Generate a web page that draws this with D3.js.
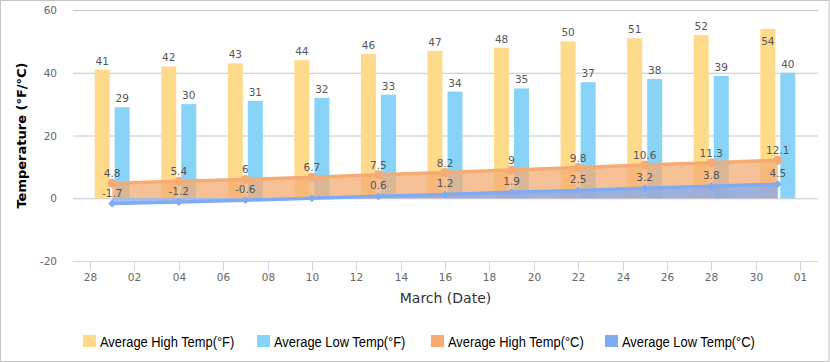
<!DOCTYPE html>
<html>
<head>
<meta charset="utf-8">
<script src="https://cdn.jsdelivr.net/npm/d3@7"></script>
<style>
  body { margin: 0; background: #fff; }
  svg { display: block; }
</style>
</head>
<body>
<div id="chart"></div>
<script>
// data
var dates = ["2023-03-01", "2023-03-04", "2023-03-07", "2023-03-10", "2023-03-13", "2023-03-16",
             "2023-03-19", "2023-03-22", "2023-03-25", "2023-03-28", "2023-03-31"];
var highF = [41, 42, 43, 44, 46, 47, 48, 50, 51, 52, 54];
var lowF  = [29, 30, 31, 32, 33, 34, 35, 37, 38, 39, 40];
var highC = [4.8, 5.4, 6, 6.7, 7.5, 8.2, 9, 9.8, 10.6, 11.3, 12.1];
var lowC  = [-1.7, -1.2, -0.6, 0, 0.6, 1.2, 1.9, 2.5, 3.2, 3.8, 4.5];
var xTicks = ["2023-02-28", "2023-03-02", "2023-03-04", "2023-03-06", "2023-03-08", "2023-03-10",
              "2023-03-12", "2023-03-14", "2023-03-16", "2023-03-18", "2023-03-20", "2023-03-22",
              "2023-03-24", "2023-03-26", "2023-03-28", "2023-03-30", "2023-04-01"];
var yTicks = [-20, 0, 20, 40, 60];
var seriesNames = ["Average High Temp(°F)", "Average Low Temp(°F)", "Average High Temp(°C)", "Average Low Temp(°C)"];
var seriesColors = ["#fddb8b", "#87d4f8", "#f4ac74", "#80abf3"];

var W = 830, H = 362;
var plot = {left: 73, right: 818, top: 10, bottom: 261};

var parse = d3.utcParse("%Y-%m-%d");
var pts = dates.map(function(d, i) {
  return {date: parse(d), hiF: highF[i], loF: lowF[i], hiC: highC[i], loC: lowC[i]};
});

var svg = d3.select("#chart")
  .append("svg")
    .attr("width", W)
    .attr("height", H);

// outer border
svg.append("rect")
  .attr("x", 0.5).attr("y", 0.5)
  .attr("width", W - 1.5).attr("height", H - 1)
  .attr("fill", "none")
  .attr("stroke", "#c4c4c4");

// scales
var x = d3.scaleUtc()
  .domain([parse(xTicks[0]), parse(xTicks[xTicks.length - 1])])
  .range([90, 800]);

var y = d3.scaleLinear()
  .domain([-20, 60])
  .range([plot.bottom, plot.top]);

var sub = d3.scaleBand()
  .domain(["hiF", "loF"])
  .range([-20, 20])
  .paddingInner(0.25)
  .paddingOuter(0.125);

// grid lines
svg.append("g")
  .selectAll("line")
  .data(yTicks.filter(function(t) { return t !== -20; }))
  .enter()
  .append("line")
    .attr("x1", plot.left).attr("x2", plot.right)
    .attr("y1", function(d) { return y(d) + 0.5; })
    .attr("y2", function(d) { return y(d) + 0.5; })
    .attr("stroke", "#c6c6c6");

// Y axis labels
svg.append("g")
  .selectAll("text")
  .data(yTicks)
  .enter()
  .append("text")
    .attr("x", 57)
    .attr("y", function(d) { return y(d) + 4; })
    .attr("text-anchor", "end")
    .style("font", "10.5px 'DejaVu Sans', sans-serif")
    .style("fill", "#666")
    .text(function(d) { return d; });

// X axis
var xAxis = svg.append("g")
  .attr("transform", "translate(0," + plot.bottom + ")");
xAxis.append("line")
  .attr("x1", plot.left).attr("x2", plot.right)
  .attr("y1", 0.5).attr("y2", 0.5)
  .attr("stroke", "#ccd6eb");
var tk = xAxis.selectAll(".tick")
  .data(xTicks.map(parse))
  .enter()
  .append("g")
    .attr("transform", function(d) { return "translate(" + (Math.round(x(d)) + 0.5) + ",0)"; });
tk.append("line")
  .attr("y1", 0).attr("y2", 10)
  .attr("stroke", "#ccd6eb");
tk.append("text")
  .attr("y", 20)
  .attr("text-anchor", "middle")
  .style("font", "10.5px 'DejaVu Sans', sans-serif")
  .style("fill", "#666")
  .text(d3.utcFormat("%d"));

// axis titles
svg.append("text")
  .attr("transform", "translate(26," + ((plot.top + plot.bottom) / 2) + ") rotate(-90)")
  .attr("text-anchor", "middle")
  .style("font", "bold 13px 'DejaVu Sans', sans-serif")
  .style("fill", "#000")
  .text("Temperature (°F/°C)");

svg.append("text")
  .attr("x", (plot.left + plot.right) / 2)
  .attr("y", 303)
  .attr("text-anchor", "middle")
  .style("font", "14px 'DejaVu Sans', sans-serif")
  .style("fill", "#333")
  .text("March (Date)");

// bars
var bars = svg.append("g");
bars.selectAll(".hiF")
  .data(pts)
  .enter()
  .append("rect")
    .attr("x", function(d) { return x(d.date) + sub("hiF"); })
    .attr("y", function(d) { return y(d.hiF); })
    .attr("width", sub.bandwidth())
    .attr("height", function(d) { return y(0) - y(d.hiF); })
    .attr("fill", seriesColors[0]);
bars.selectAll(".loF")
  .data(pts)
  .enter()
  .append("rect")
    .attr("x", function(d) { return x(d.date) + sub("loF"); })
    .attr("y", function(d) { return y(d.loF); })
    .attr("width", sub.bandwidth())
    .attr("height", function(d) { return y(0) - y(d.loF); })
    .attr("fill", seriesColors[1]);

// areas + lines
function drawArea(key, color) {
  var area = d3.area()
    .x(function(d) { return x(d.date); })
    .y0(y(0))
    .y1(function(d) { return y(d[key]); });
  var line = d3.line()
    .x(function(d) { return x(d.date); })
    .y(function(d) { return y(d[key]); });
  var g = svg.append("g");
  g.append("path")
    .datum(pts)
    .attr("d", area)
    .attr("fill", color)
    .attr("fill-opacity", 0.75);
  g.append("path")
    .datum(pts)
    .attr("d", line)
    .attr("fill", "none")
    .attr("stroke", color)
    .attr("stroke-width", 3.5);
  return g;
}
var gHi = drawArea("hiC", seriesColors[2]);
var gLo = drawArea("loC", seriesColors[3]);

// markers
gHi.selectAll("circle")
  .data(pts)
  .enter()
  .append("circle")
    .attr("cx", function(d) { return x(d.date); })
    .attr("cy", function(d) { return y(d.hiC); })
    .attr("r", 4.5)
    .attr("fill", seriesColors[2]);
gLo.selectAll(".mk")
  .data(pts)
  .enter()
  .append("path")
    .attr("d", d3.symbol().type(d3.symbolDiamond2).size(40))
    .attr("transform", function(d) { return "translate(" + x(d.date) + "," + y(d.loC) + ")"; })
    .attr("fill", seriesColors[3]);

// data labels
var labels = svg.append("g")
  .style("font", "10.5px 'DejaVu Sans', sans-serif")
  .style("fill", "#555")
  .attr("text-anchor", "middle");

function barLabelY(v) {
  var top = y(v);
  return (top - 17 < plot.top + 3) ? top + 16 : top - 5;
}
labels.selectAll(".lhiF")
  .data(pts)
  .enter()
  .append("text")
    .attr("x", function(d) { return x(d.date) + sub("hiF") + sub.bandwidth() / 2; })
    .attr("y", function(d) { return barLabelY(d.hiF); })
    .text(function(d) { return d.hiF; });
labels.selectAll(".lloF")
  .data(pts)
  .enter()
  .append("text")
    .attr("x", function(d) { return x(d.date) + sub("loF") + sub.bandwidth() / 2; })
    .attr("y", function(d) { return barLabelY(d.loF); })
    .text(function(d) { return d.loF; });
labels.selectAll(".lhiC")
  .data(pts)
  .enter()
  .append("text")
    .attr("x", function(d) { return x(d.date); })
    .attr("y", function(d) { return y(d.hiC) - 6; })
    .text(function(d) { return d.hiC; });
labels.selectAll(".lloC")
  .data(pts.filter(function(d) { return d.loC !== 0; }))
  .enter()
  .append("text")
    .attr("x", function(d) { return x(d.date); })
    .attr("y", function(d) { return y(d.loC) - 7; })
    .text(function(d) { return d.loC; });

// legend (condensed face is not installed, so squeeze the text horizontally)
var legend = svg.append("g")
  .attr("transform", "translate(83,335)");
var item = legend.selectAll("g")
  .data(seriesNames)
  .enter()
  .append("g")
    .attr("transform", function(d, i) { return "translate(" + (i * 174) + ",0)"; });
item.append("rect")
  .attr("width", 13)
  .attr("height", 12)
  .attr("fill", function(d, i) { return seriesColors[i]; });
item.append("text")
  .attr("transform", "translate(17,11.5) scale(0.86,1)")
  .style("font", "15px 'Liberation Sans', Arial, sans-serif")
  .style("fill", "#000")
  .text(function(d) { return d; });
</script>
</body>
</html>
